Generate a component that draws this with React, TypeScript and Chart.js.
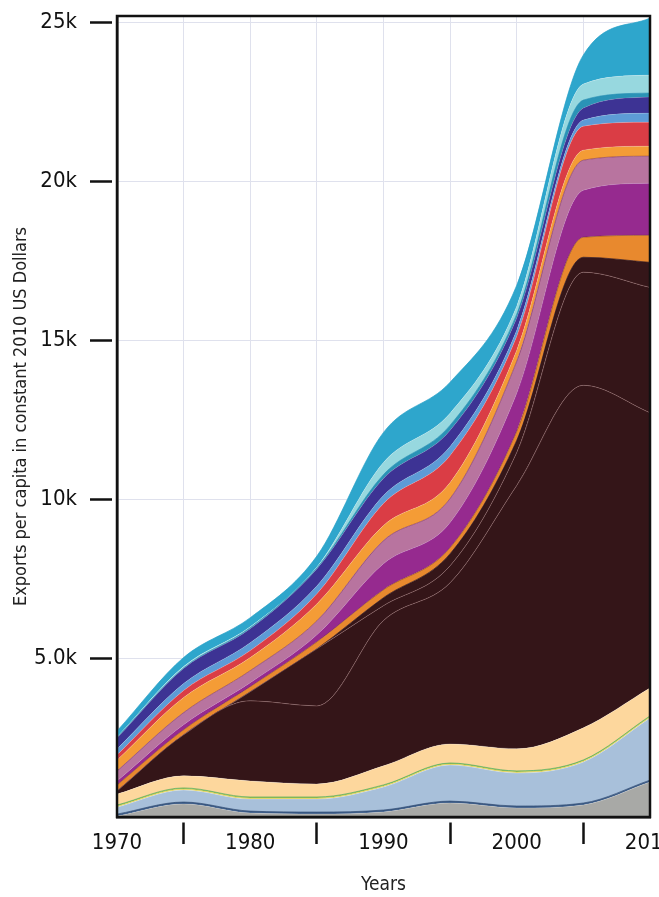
import { useEffect, useRef } from 'react';
import { Chart, registerables } from 'chart.js';

Chart.register(...registerables);

const years = ['1970', '1975', '1980', '1985', '1990', '1995', '2000', '2005', '2010'];

// Layer values (US$ per capita, constant 2010), bottom to top
const grey = [30, 410, 125, 95, 160, 440, 285, 380, 1100];
const darkBlue = [60, 60, 60, 60, 60, 60, 60, 60, 60];
const paleBlue = [220, 380, 380, 410, 725, 1135, 1040, 1290, 1955];
const yellow = [30, 30, 30, 30, 30, 30, 30, 30, 30];
const green = [35, 35, 35, 35, 35, 35, 35, 35, 35];
const peach = [345, 380, 505, 410, 600, 600, 695, 1010, 880];
const maroonA = [95, 1290, 2520, 2455, 4570, 5070, 8285, 10775, 8660];
const maroonB = [0, 0, 285, 1795, 470, 535, 1040, 3560, 3940];
const maroonC = [0, 0, 0, 0, 250, 380, 380, 470, 790];
const orangeA = [190, 160, 160, 220, 250, 190, 285, 630, 850];
const purple = [125, 160, 125, 220, 820, 790, 1195, 1480, 1640];
const mauve = [315, 380, 380, 440, 725, 755, 1010, 945, 850];
const orangeB = [345, 475, 410, 535, 475, 505, 345, 315, 315];
const red = [160, 220, 220, 315, 695, 850, 440, 755, 755];
const skyBlue = [190, 220, 250, 250, 250, 285, 190, 190, 285];
const indigo = [345, 475, 440, 535, 535, 505, 380, 380, 505];
const tealDark = [15, 15, 30, 30, 125, 160, 125, 250, 125];
const lightCyan = [15, 45, 30, 30, 380, 380, 250, 505, 565];
const teal = [190, 285, 285, 345, 945, 975, 660, 915, 1795];

const yTicks = [5000, 10000, 15000, 20000, 25000];

const layers = [
  { name: 'grey', data: grey, color: '#a8a9a6', line: 'rgba(255,255,255,0.25)' },
  { name: 'darkBlue', data: darkBlue, color: '#3d5d88', line: '#2e4a72' },
  { name: 'paleBlue', data: paleBlue, color: '#a8c0da', line: 'rgba(255,255,255,0.35)' },
  { name: 'yellow', data: yellow, color: '#e2d25a', line: '#e2d25a' },
  { name: 'green', data: green, color: '#5cae58', line: '#5cae58' },
  { name: 'peach', data: peach, color: '#fdd79d', line: 'rgba(255,255,255,0.3)' },
  { name: 'maroonA', data: maroonA, color: '#341518', line: 'rgba(190,140,140,0.55)' },
  { name: 'maroonB', data: maroonB, color: '#341518', line: 'rgba(190,140,140,0.55)' },
  { name: 'maroonC', data: maroonC, color: '#351619', line: '#351619' },
  { name: 'orangeA', data: orangeA, color: '#e8892e', line: 'rgba(90,30,30,0.6)' },
  { name: 'purple', data: purple, color: '#962a8f', line: 'rgba(255,255,255,0.2)' },
  { name: 'mauve', data: mauve, color: '#b8749f', line: 'rgba(110,30,80,0.7)' },
  { name: 'orangeB', data: orangeB, color: '#f49c36', line: 'rgba(255,255,255,0.25)' },
  { name: 'red', data: red, color: '#da3d45', line: 'rgba(255,255,255,0.25)' },
  { name: 'skyBlue', data: skyBlue, color: '#5d9bd6', line: 'rgba(255,255,255,0.2)' },
  { name: 'indigo', data: indigo, color: '#3d3394', line: 'rgba(255,255,255,0.15)' },
  { name: 'tealDark', data: tealDark, color: '#2a93b6', line: '#2a93b6' },
  { name: 'lightCyan', data: lightCyan, color: '#97d8df', line: 'rgba(255,255,255,0.3)' },
  { name: 'teal', data: teal, color: '#2ea6cc', line: '#2aa2c8' },
];

const FONT = "'DejaVu Sans Condensed', 'DejaVu Sans', sans-serif";

const framePlugin = {
  id: 'frame',
  afterDatasetsDraw(chart: any) {
    const { ctx, chartArea } = chart;
    ctx.save();
    ctx.strokeStyle = '#111';
    ctx.lineWidth = 2.5;
    ctx.strokeRect(chartArea.left, chartArea.top, chartArea.right - chartArea.left, chartArea.bottom - chartArea.top);
    ctx.restore();
  },
};

export default function App() {
  const ref = useRef<HTMLCanvasElement | null>(null);

  useEffect(() => {
    if (!ref.current) return;
    const chart = new Chart(ref.current, {
      type: 'line',
      data: {
        labels: years,
        datasets: layers.map((l, i) => ({
          label: l.name,
          data: l.data,
          backgroundColor: l.color,
          borderColor: l.line,
          borderWidth: 0.7,
          fill: i === 0 ? 'origin' : '-1',
          pointRadius: 0,
          cubicInterpolationMode: 'monotone' as const,
        })),
      },
      options: {
        animation: false,
        responsive: true,
        maintainAspectRatio: false,
        layout: { padding: { top: 16, right: 9, left: 0, bottom: 0 } },
        plugins: { legend: { display: false }, tooltip: { enabled: false } },
        scales: {
          x: {
            type: 'category',
            offset: false,
            grid: {
              color: '#dfe1ed',
              lineWidth: 1,
              tickLength: 27,
              tickWidth: 2.5,
              tickColor: (c: any) => (c.index % 2 === 1 ? '#111' : 'rgba(0,0,0,0)'),
              tickBorderDash: [22, 4],
              tickBorderDashOffset: 22,
            },
            border: { display: true, color: '#111', width: 2.5 },
            ticks: {
              autoSkip: false,
              maxRotation: 0,
              padding: -14,
              color: '#111',
              font: { family: FONT, size: 22 },
              callback: (_v: any, i: number) => (i % 2 === 0 ? years[i] : ''),
            },
            title: {
              display: true,
              text: 'Years',
              color: '#222',
              font: { family: FONT, size: 19 },
              padding: { top: 0, bottom: 1 },
            },
            afterFit: (s: any) => {
              s.height = 80;
              s.paddingLeft = 0;
              s.paddingRight = 0;
            },
          },
          y: {
            stacked: true,
            min: 0,
            max: 25200,
            afterBuildTicks: (s: any) => {
              s.ticks = [0, ...yTicks].map((v) => ({ value: v }));
            },
            grid: {
              color: '#dfe1ed',
              lineWidth: 1,
              tickLength: 27,
              tickWidth: 2.5,
              tickColor: (c: any) => (c.tick && c.tick.value === 0 ? 'rgba(0,0,0,0)' : '#111'),
              tickBorderDash: [22, 10],
            },
            border: { display: true, color: '#111', width: 2.5 },
            ticks: {
              padding: 13,
              color: '#111',
              font: { family: FONT, size: 22 },
              callback: (v: any) => {
                const n = Number(v);
                if (n === 0) return '';
                return n >= 10000 ? n / 1000 + 'k' : (n / 1000).toFixed(1) + 'k';
              },
            },
            title: {
              display: true,
              text: 'Exports per capita in constant 2010 US Dollars',
              color: '#222',
              font: { family: FONT, size: 18 },
              padding: { top: 11, bottom: 0 },
            },
            afterFit: (s: any) => {
              s.width = 117;
              s.paddingTop = 0;
              s.paddingBottom = 0;
            },
          },
        },
      },
      plugins: [framePlugin],
    });
    return () => chart.destroy();
  }, []);

  return (
    <div style={{ position: 'fixed', left: 0, top: 0, width: 659, height: 897, background: '#fff' }}>
      <canvas ref={ref} />
    </div>
  );
}
